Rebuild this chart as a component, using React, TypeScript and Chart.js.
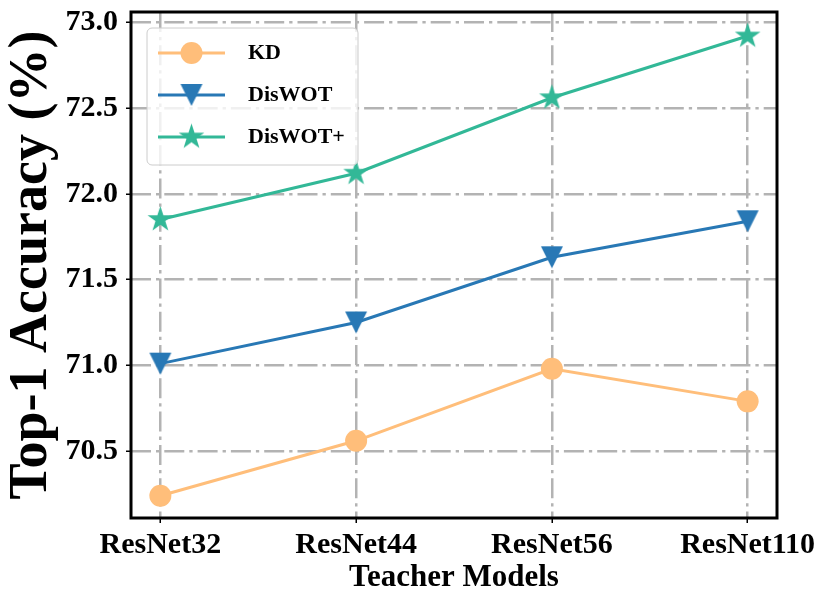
import React, { useEffect, useRef } from 'react';
import { Chart, registerables } from 'chart.js';

Chart.register(...registerables);

const categories = ['ResNet32', 'ResNet44', 'ResNet56', 'ResNet110'];
const kdValues = [70.24, 70.56, 70.98, 70.79];
const diswotValues = [71.01, 71.25, 71.63, 71.84];
const diswotPlusValues = [71.85, 72.12, 72.56, 72.92];
const yTickValues = [70.5, 71.0, 71.5, 72.0, 72.5, 73.0];
const seriesLabels = ['KD', 'DisWOT', 'DisWOT+'];
const seriesColors = ['#FFBE7A', '#2878B5', '#32B897'];

const FONT = '"Liberation Serif", "Times New Roman", serif';
const GRID_DASH = [20, 5, 3.3, 5];

function makeStar(color: string, R: number): HTMLCanvasElement {
  const size = Math.ceil(2 * R + 2);
  const c = document.createElement('canvas');
  c.width = size;
  c.height = size;
  const ctx = c.getContext('2d')!;
  const cx = size / 2;
  const cy = size / 2;
  const r = R * 0.381966;
  ctx.beginPath();
  for (let k = 0; k < 10; k++) {
    const rad = (k * Math.PI) / 5;
    const rr = k % 2 === 0 ? R : r;
    const x = cx + Math.sin(rad) * rr;
    const y = cy - Math.cos(rad) * rr;
    if (k === 0) ctx.moveTo(x, y);
    else ctx.lineTo(x, y);
  }
  ctx.closePath();
  ctx.fillStyle = color;
  ctx.fill();
  return c;
}

function makeTriangleDown(color: string, h: number): HTMLCanvasElement {
  const size = Math.ceil(2 * h + 2);
  const c = document.createElement('canvas');
  c.width = size;
  c.height = size;
  const ctx = c.getContext('2d')!;
  const cx = size / 2;
  const cy = size / 2;
  ctx.beginPath();
  ctx.moveTo(cx - h, cy - h);
  ctx.lineTo(cx + h, cy - h);
  ctx.lineTo(cx, cy + h);
  ctx.closePath();
  ctx.fillStyle = color;
  ctx.fill();
  return c;
}

function roundRectPath(ctx: CanvasRenderingContext2D, x: number, y: number, w: number, h: number, r: number) {
  ctx.beginPath();
  ctx.moveTo(x + r, y);
  ctx.lineTo(x + w - r, y);
  ctx.arcTo(x + w, y, x + w, y + r, r);
  ctx.lineTo(x + w, y + h - r);
  ctx.arcTo(x + w, y + h, x + w - r, y + h, r);
  ctx.lineTo(x + r, y + h);
  ctx.arcTo(x, y + h, x, y + h - r, r);
  ctx.lineTo(x, y + r);
  ctx.arcTo(x, y, x + r, y, r);
  ctx.closePath();
}

export default function App() {
  const canvasRef = useRef<HTMLCanvasElement | null>(null);

  useEffect(() => {
    const canvas = canvasRef.current;
    if (!canvas) return;

    const triangle = makeTriangleDown(seriesColors[1], 11);
    const star = makeStar(seriesColors[2], 13.5);
    const pointStyles: any[] = ['circle', triangle, star];

    const framePlugin = {
      id: 'frameAndLegend',
      afterDatasetsDraw(chart: any) {
        const { ctx, chartArea } = chart;
        const { left, top, right, bottom } = chartArea;
        ctx.save();
        ctx.strokeStyle = '#000';
        ctx.lineWidth = 3;
        ctx.strokeRect(left, top, right - left, bottom - top);
        ctx.restore();

        const bx = left + 16;
        const by = top + 16;
        const bw = 211;
        const bh = 137;
        ctx.save();
        roundRectPath(ctx, bx, by, bw, bh, 5);
        ctx.fillStyle = 'rgba(255,255,255,0.8)';
        ctx.fill();
        ctx.strokeStyle = '#cccccc';
        ctx.lineWidth = 1;
        ctx.stroke();
        chart.data.datasets.forEach((ds: any, i: number) => {
          const y = by + 25 + i * 42;
          ctx.strokeStyle = ds.borderColor;
          ctx.lineWidth = 3;
          ctx.beginPath();
          ctx.moveTo(bx + 11, y);
          ctx.lineTo(bx + 78, y);
          ctx.stroke();
          const mx = bx + 44.5;
          const ps = ds.pointStyle;
          if (ps === 'circle') {
            ctx.beginPath();
            ctx.arc(mx, y, ds.pointRadius, 0, Math.PI * 2);
            ctx.fillStyle = ds.backgroundColor;
            ctx.fill();
          } else {
            ctx.drawImage(ps, mx - ps.width / 2, y - ps.height / 2);
          }
          ctx.fillStyle = '#000';
          ctx.font = `bold 22px ${FONT}`;
          ctx.textBaseline = 'middle';
          ctx.textAlign = 'left';
          ctx.fillText(ds.label, bx + 101, y);
        });
        ctx.restore();
      },
    };

    const seriesValues = [kdValues, diswotValues, diswotPlusValues];

    const chart = new Chart(canvas, {
      type: 'line',
      data: {
        datasets: seriesValues.map((vals, s) => ({
          label: seriesLabels[s],
          data: vals.map((v, i) => ({ x: i, y: v })),
          borderColor: seriesColors[s],
          backgroundColor: seriesColors[s],
          borderWidth: 3,
          pointStyle: pointStyles[s],
          pointRadius: s === 0 ? 11 : 12,
          pointBorderWidth: 0,
          pointHoverRadius: s === 0 ? 11 : 12,
          fill: false,
          tension: 0,
        })),
      },
      options: {
        animation: false,
        responsive: false,
        events: [],
        layout: { padding: { left: 0, top: 12, right: 54, bottom: 0 } },
        plugins: {
          legend: { display: false },
          tooltip: { enabled: false },
        },
        scales: {
          x: {
            type: 'linear',
            min: -0.15,
            max: 3.15,
            afterBuildTicks: (s: any) => {
              s.ticks = categories.map((_, i) => ({ value: i }));
            },
            afterFit: (s: any) => {
              s.height = 85;
              s.paddingLeft = 0;
              s.paddingRight = 0;
            },
            ticks: {
              callback: (v: any) => categories[Math.round(Number(v))] ?? '',
              font: { family: FONT, size: 30, weight: 'bold' },
              color: '#000',
              padding: 4,
              maxRotation: 0,
              autoSkip: false,
            },
            grid: {
              color: '#b3b3b3',
              lineWidth: 2.5,
              tickColor: '#000',
              tickLength: 5,
              tickWidth: 1.5,
            },
            border: { display: false, dash: GRID_DASH },
            title: {
              display: true,
              text: 'Teacher Models',
              font: { family: FONT, size: 31, weight: 'bold' },
              color: '#000',
              padding: { top: 6, bottom: 6 },
            },
          },
          y: {
            type: 'linear',
            min: 70.11,
            max: 73.06,
            afterBuildTicks: (s: any) => {
              s.ticks = yTickValues.map((v) => ({ value: v }));
            },
            afterFit: (s: any) => {
              s.width = 131;
              s.paddingTop = 0;
              s.paddingBottom = 0;
            },
            ticks: {
              callback: (v: any) => Number(v).toFixed(1),
              font: { family: FONT, size: 30, weight: 'bold' },
              color: '#000',
              padding: 8,
            },
            grid: {
              color: '#b3b3b3',
              lineWidth: 2.5,
              tickColor: '#000',
              tickLength: 5,
              tickWidth: 1.5,
            },
            border: { display: false, dash: GRID_DASH },
            title: {
              display: true,
              text: 'Top-1 Accuracy (%)',
              font: { family: FONT, size: 54, weight: 'bold' },
              color: '#000',
              padding: { top: 0, bottom: 0 },
            },
          },
        },
      } as any,
      plugins: [framePlugin],
    });

    return () => {
      chart.destroy();
    };
  }, []);

  return (
    <div style={{ position: 'absolute', left: 0, top: 0, width: 831, height: 603, background: '#fff' }}>
      <canvas ref={canvasRef} width={831} height={603} style={{ display: 'block', width: 831, height: 603 }} />
    </div>
  );
}
